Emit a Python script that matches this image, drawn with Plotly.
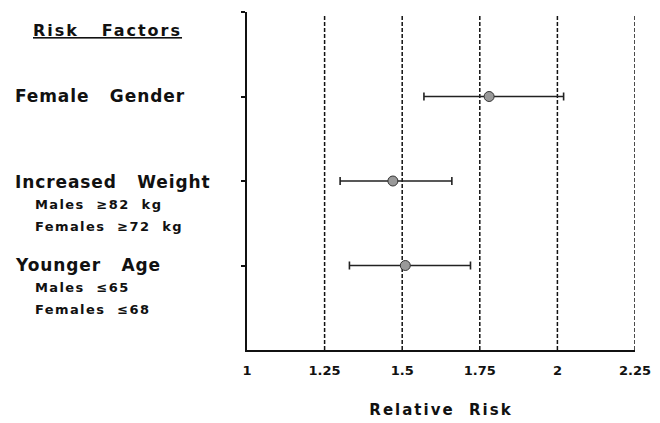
import plotly.graph_objects as go

categories = ["Female Gender", "Increased Weight", "Younger Age"]
cat_pos = [1, 2, 3]
relative_risk = [1.78, 1.47, 1.51]
ci_lower = [1.57, 1.30, 1.33]
ci_upper = [2.02, 1.66, 1.72]
x_ticks = [1, 1.25, 1.5, 1.75, 2, 2.25]
x_tick_labels = ["1", "1.25", "1.5", "1.75", "2", "2.25"]
sub_labels = {
    "Increased Weight": ["Males  ≥82  kg", "Females  ≥72  kg"],
    "Younger Age": ["Males  ≤65", "Females  ≤68"],
}

FONT = "DejaVu Sans"
NB = "\u00a0"

def sp(t, n=1):
    return t.replace(" ", NB * n)

# page offset (default body margin of the html page)
OFF = 8
L, T, W, H = 239, 4, 388, 338
R = 660 - L - W
B = 423 - T - H

fig = go.Figure()
fig.add_trace(go.Scatter(
    x=relative_risk, y=cat_pos, mode="markers",
    marker=dict(size=10, color="#999999", line=dict(color="#333", width=1)),
    error_x=dict(type="data", symmetric=False,
                 array=[u - r for u, r in zip(ci_upper, relative_risk)],
                 arrayminus=[r - l for r, l in zip(relative_risk, ci_lower)],
                 color="#222", thickness=1.6, width=4),
    showlegend=False,
))

for xv in x_ticks[1:]:
    fig.add_shape(type="line", xref="x", yref="paper", x0=xv, x1=xv, y0=0, y1=0.99,
                  line=dict(color="#111", width=1.5, dash="4px,2px"), layer="below")

fig.update_layout(
    width=660, height=423,
    margin=dict(l=L, r=R, t=T, b=B, autoexpand=False),
    paper_bgcolor="white", plot_bgcolor="white",
    font=dict(family=FONT, color="#111"),
    xaxis=dict(range=[1, 2.25], tickvals=x_ticks, ticktext=x_tick_labels,
               showgrid=False,
               showline=True, linecolor="#111", linewidth=2, zeroline=False,
               ticks="", tickfont=dict(size=13, family=FONT, weight="bold", color="#111"),
               automargin=False, ticklabelstandoff=7,
               title=dict(text="<span style='letter-spacing:2px'>" + sp("Relative  Risk") + "</span>",
                          font=dict(size=15, family=FONT, weight="bold", color="#111"), standoff=28)),
    yaxis=dict(range=[4, 0], tickvals=[0] + cat_pos, ticktext=["", "", "", ""],
               showgrid=False, zeroline=False, showline=True, linecolor="#111",
               linewidth=2, ticks="outside", ticklen=4, tickcolor="#111", tickwidth=1.5,
               automargin=False),
)

def px(X):
    return (X - OFF - L) / W

def py(Y):
    return 1 - (Y - OFF - T) / H

def ann(text, X, Y, size, spacing):
    fig.add_annotation(
        text="<span style='letter-spacing:%spx'>%s</span>" % (spacing, text),
        xref="paper", yref="paper", x=px(X), y=py(Y), xanchor="left", yanchor="middle",
        showarrow=False, font=dict(size=size, family=FONT, weight="bold", color="#111"))

ann("<u>" + sp("Risk Factors", 3) + "</u>", 31, 30, 16, 2)
main_y = [96, 182, 265]
for cat, yy in zip(categories, main_y):
    ann(sp(cat, 3), 13, yy, 17, 0.9)
    for i, s in enumerate(sub_labels.get(cat, [])):
        ann(sp(s), 33, yy + 22 * (i + 1), 13, 1.4)

fig.write_html("out.html")
